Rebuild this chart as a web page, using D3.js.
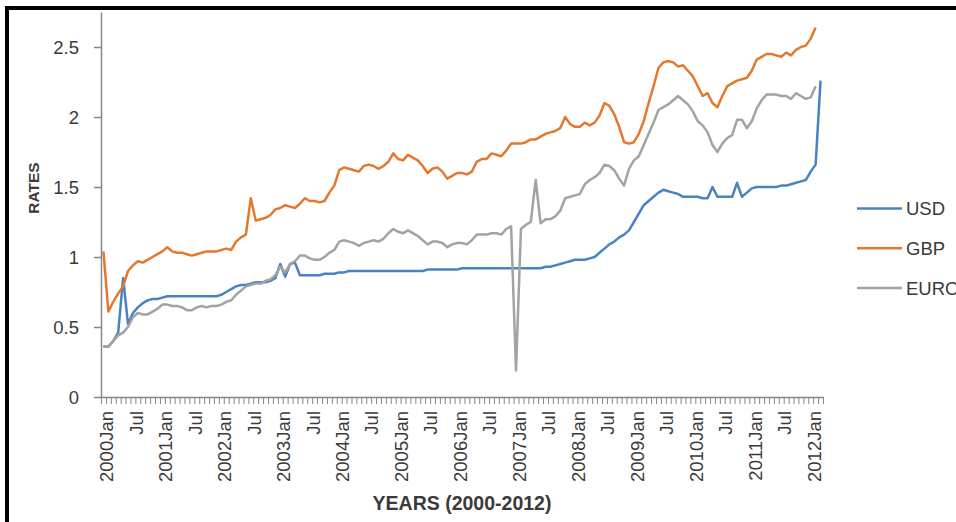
<!DOCTYPE html>
<html>
<head>
<meta charset="utf-8">
<script src="https://cdn.jsdelivr.net/npm/d3@7"></script>
<style>
  html, body { margin: 0; padding: 0; background: #fff; }
  svg { display: block; font-family: "Liberation Sans", Arial, sans-serif; }
</style>
</head>
<body>
<svg id="chart" width="956" height="522"></svg>
<script>
// Categories: monthly, Jan 2000 .. Mar 2012
const years = [2000, 2001, 2002, 2003, 2004, 2005, 2006, 2007, 2008, 2009, 2010, 2011, 2012];
const monthNames = ["Jan", "Feb", "Mar", "Apr", "May", "Jun", "Jul", "Aug", "Sep", "Oct", "Nov", "Dec"];
const categoryCount = 147;
const categories = years.flatMap(yr => monthNames.map(m => yr + m)).slice(0, categoryCount);

const usd = [
  0.36, 0.36, 0.40, 0.46, 0.85, 0.52, 0.60, 0.64, 0.67, 0.69, 0.70, 0.70,
  0.71, 0.72, 0.72, 0.72, 0.72, 0.72, 0.72, 0.72, 0.72, 0.72, 0.72, 0.72,
  0.73, 0.75, 0.77, 0.79, 0.80, 0.80, 0.81, 0.82, 0.82, 0.82, 0.83, 0.85,
  0.95, 0.86, 0.95, 0.96, 0.87, 0.87, 0.87, 0.87, 0.87, 0.88, 0.88, 0.88,
  0.89, 0.89, 0.90, 0.90, 0.90, 0.90, 0.90, 0.90, 0.90, 0.90, 0.90, 0.90,
  0.90, 0.90, 0.90, 0.90, 0.90, 0.90, 0.91, 0.91, 0.91, 0.91, 0.91, 0.91,
  0.91, 0.92, 0.92, 0.92, 0.92, 0.92, 0.92, 0.92, 0.92, 0.92, 0.92, 0.92,
  0.92, 0.92, 0.92, 0.92, 0.92, 0.92, 0.93, 0.93, 0.94, 0.95, 0.96, 0.97,
  0.98, 0.98, 0.98, 0.99, 1.00, 1.03, 1.06, 1.09, 1.11, 1.14, 1.16, 1.19,
  1.25, 1.31, 1.37, 1.40, 1.43, 1.46, 1.48, 1.47, 1.46, 1.45, 1.43, 1.43,
  1.43, 1.43, 1.42, 1.42, 1.50, 1.43, 1.43, 1.43, 1.43, 1.53, 1.43, 1.46,
  1.49, 1.50, 1.50, 1.50, 1.50, 1.50, 1.51, 1.51, 1.52, 1.53, 1.54, 1.55,
  1.61, 1.66, 2.26
];

const gbp = [
  1.04, 0.61, 0.68, 0.74, 0.79, 0.90, 0.94, 0.97, 0.96, 0.98, 1.00, 1.02,
  1.04, 1.07, 1.04, 1.03, 1.03, 1.02, 1.01, 1.02, 1.03, 1.04, 1.04, 1.04,
  1.05, 1.06, 1.05, 1.11, 1.14, 1.16, 1.42, 1.26, 1.27, 1.28, 1.30, 1.34,
  1.35, 1.37, 1.36, 1.35, 1.38, 1.42, 1.40, 1.40, 1.39, 1.40, 1.46, 1.51,
  1.62, 1.64, 1.63, 1.62, 1.61, 1.65, 1.66, 1.65, 1.63, 1.65, 1.68, 1.74,
  1.70, 1.69, 1.73, 1.71, 1.69, 1.65, 1.60, 1.63, 1.64, 1.61, 1.56, 1.58,
  1.60, 1.60, 1.59, 1.61, 1.68, 1.70, 1.70, 1.74, 1.73, 1.72, 1.76, 1.81,
  1.81, 1.81, 1.82, 1.84, 1.84, 1.86, 1.88, 1.89, 1.90, 1.92, 2.00, 1.95,
  1.93, 1.93, 1.96, 1.94, 1.96, 2.01, 2.10, 2.08, 2.02, 1.93, 1.82, 1.81,
  1.82, 1.88, 1.97, 2.10, 2.22, 2.35, 2.39, 2.40, 2.39, 2.36, 2.37, 2.33,
  2.29, 2.22, 2.15, 2.17, 2.10, 2.07, 2.15, 2.22, 2.24, 2.26, 2.27, 2.28,
  2.33, 2.41, 2.43, 2.45, 2.45, 2.44, 2.43, 2.46, 2.44, 2.48, 2.50, 2.51,
  2.56, 2.64
];

const euro = [
  0.36, 0.36, 0.40, 0.44, 0.46, 0.50, 0.57, 0.60, 0.59, 0.59, 0.61, 0.63,
  0.66, 0.66, 0.65, 0.65, 0.64, 0.62, 0.62, 0.64, 0.65, 0.64, 0.65, 0.65,
  0.66, 0.68, 0.69, 0.73, 0.76, 0.79, 0.80, 0.81, 0.81, 0.83, 0.84, 0.87,
  0.93, 0.89, 0.95, 0.97, 1.01, 1.01, 0.99, 0.98, 0.98, 1.00, 1.03, 1.05,
  1.11, 1.12, 1.11, 1.10, 1.08, 1.10, 1.11, 1.12, 1.11, 1.13, 1.17, 1.20,
  1.18, 1.17, 1.19, 1.17, 1.15, 1.12, 1.09, 1.11, 1.11, 1.10, 1.07, 1.09,
  1.10, 1.10, 1.09, 1.12, 1.16, 1.16, 1.16, 1.17, 1.17, 1.16, 1.20, 1.22,
  0.19, 1.20, 1.23, 1.25, 1.55, 1.24, 1.27, 1.27, 1.29, 1.33, 1.42, 1.43,
  1.44, 1.45, 1.52, 1.55, 1.57, 1.60, 1.66, 1.65, 1.62, 1.56, 1.51, 1.63,
  1.69, 1.72, 1.80, 1.88, 1.96, 2.05, 2.07, 2.09, 2.12, 2.15, 2.12, 2.09,
  2.04, 1.97, 1.94, 1.89, 1.80, 1.75, 1.81, 1.85, 1.87, 1.98, 1.98, 1.92,
  1.97, 2.06, 2.12, 2.16, 2.16, 2.16, 2.15, 2.15, 2.13, 2.17, 2.15, 2.13,
  2.14, 2.22
];

const seriesNames = ["USD", "GBP", "EURO"];
const seriesColors = ["#4a83c2", "#e5782f", "#a3a3a3"];
const yTicks = [0, 0.5, 1, 1.5, 2, 2.5];
const yMax = 2.75;

const series = [usd, gbp, euro];
const textColor = "#3a3a3a";
const axisColor = "#868686";

const svg = d3.select("#chart");
svg.append("rect").attr("width", 956).attr("height", 522).attr("fill", "#fff");

const plotLeft = 101, plotRight = 823, plotTop = 12, plotBottom = 397;

const x = d3.scaleBand().domain(categories).range([plotLeft, plotRight]);
const xEdges = d3.scaleLinear().domain([0, categories.length]).range([plotLeft, plotRight]);
const y = d3.scaleLinear().domain([0, yMax]).range([plotBottom, plotTop]);

// y axis
const yAxis = svg.append("g")
  .attr("transform", `translate(${plotLeft},0)`)
  .call(d3.axisLeft(y).tickValues(yTicks).tickSize(7).tickSizeOuter(0).tickPadding(15).tickFormat(d => String(d)));
yAxis.select(".domain").attr("stroke", axisColor).attr("stroke-width", 1.5);
yAxis.selectAll(".tick line").attr("stroke", axisColor).attr("stroke-width", 1.5);
yAxis.selectAll(".tick text")
  .attr("fill", textColor)
  .attr("font-size", "18.5px")
  .attr("dy", "0.36em");

// x axis: monthly boundary ticks
const xTicks = svg.append("g")
  .attr("transform", `translate(0,${plotBottom})`)
  .call(d3.axisBottom(xEdges).tickValues(d3.range(categories.length + 1)).tickSize(7).tickSizeOuter(0).tickFormat(""));
xTicks.select(".domain").attr("stroke", axisColor).attr("stroke-width", 1.5);
xTicks.selectAll(".tick line").attr("stroke", axisColor).attr("stroke-width", 1);

// x axis labels every six months
const labelCats = categories.filter((c, i) => i % 6 === 0);
const xLabels = svg.append("g")
  .attr("transform", `translate(0,${plotBottom})`)
  .call(d3.axisBottom(x).tickValues(labelCats).tickSize(0)
    .tickFormat(c => c.endsWith("Jan") ? c : c.slice(4)));
xLabels.select(".domain").remove();
xLabels.selectAll(".tick text")
  .attr("fill", textColor)
  .attr("font-size", "18.5px")
  .attr("transform", "rotate(-90)")
  .attr("text-anchor", "end")
  .attr("x", -14)
  .attr("y", 0)
  .attr("dy", "0.53em");

// series lines
const line = d3.line()
  .defined(d => d != null)
  .x((d, i) => x(categories[i]) + x.bandwidth() / 2)
  .y(d => y(d));

series.forEach((values, k) => {
  svg.append("path")
    .datum(values)
    .attr("fill", "none")
    .attr("stroke", seriesColors[k])
    .attr("stroke-width", 2.5)
    .attr("stroke-linejoin", "round")
    .attr("d", line);
});

// axis titles
svg.append("text")
  .attr("x", 462)
  .attr("y", 510)
  .attr("text-anchor", "middle")
  .attr("font-weight", "bold")
  .attr("font-size", "19.5px")
  .attr("fill", textColor)
  .text("YEARS (2000-2012)");

svg.append("text")
  .attr("transform", "translate(39,188) rotate(-90)")
  .attr("text-anchor", "middle")
  .attr("font-weight", "bold")
  .attr("font-size", "15.5px")
  .attr("fill", textColor)
  .text("RATES");

// legend
const legendY = d3.scalePoint().domain(seriesNames).range([208.5, 288]);
const legend = svg.append("g");
seriesNames.forEach((name, k) => {
  legend.append("line")
    .attr("x1", 857).attr("x2", 902)
    .attr("y1", legendY(name)).attr("y2", legendY(name))
    .attr("stroke", seriesColors[k])
    .attr("stroke-width", 2.5);
  legend.append("text")
    .attr("x", 906)
    .attr("y", legendY(name))
    .attr("dy", "0.36em")
    .attr("font-size", "18.5px")
    .attr("fill", textColor)
    .text(name);
});

// frame
svg.append("path")
  .attr("d", "M7,530 L7,8 L960,8")
  .attr("fill", "none")
  .attr("stroke", "#000")
  .attr("stroke-width", 4);
</script>
</body>
</html>
